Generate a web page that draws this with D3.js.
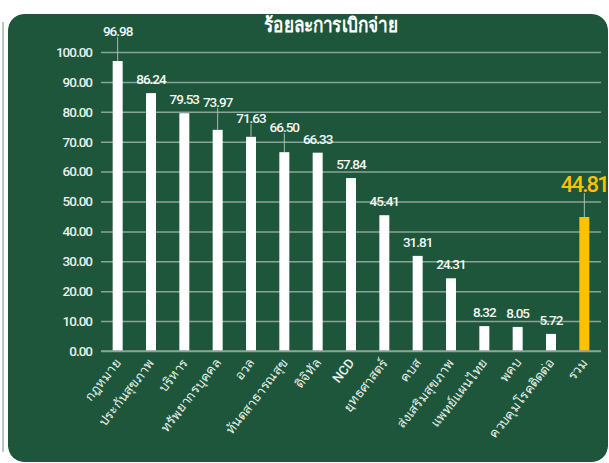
<!DOCTYPE html>
<html><head><meta charset="utf-8">
<script src="https://cdn.jsdelivr.net/npm/d3@7"></script>
<style>
html,body{margin:0;padding:0;background:#fff;}
svg{display:block;}
</style></head>
<body>
<svg id="c" width="609" height="463"></svg>
<script>
const title = "ร้อยละการเบิกจ่าย";
const categories = ["กฎหมาย","ประกันสุขภาพ","บริหาร","ทรัพยากรบุคคล","อวล","ทันตสาธารณสุข","ดิจิทัล","NCD","ยุทธศาสตร์","คบส","ส่งเสริมสุขภาพ","แพทย์แผนไทย","พคบ","ควบคุมโรคติดต่อ","รวม"];
const values = [96.98,86.24,79.53,73.97,71.63,66.50,66.33,57.84,45.41,31.81,24.31,8.32,8.05,5.72,44.81];
const yTicks = [0,10,20,30,40,50,60,70,80,90,100];
// extra lift (px) of a data label above its bar, leader line drawn when lifted
const labelLift = [16,0,0,14,5,11,0,0,0,0,0,0,0,0,14];

const svg = d3.select("#c");
const green = "#1d563a", grid = "#8aa595", gold = "#ffc000";

svg.append("defs").append("clipPath").attr("id","pc")
  .append("rect").attr("x",8).attr("y",14).attr("width",600).attr("height",448).attr("rx",16);

svg.append("line").attr("x1",3).attr("x2",3).attr("y1",22).attr("y2",452)
  .attr("stroke","#6f9782").attr("stroke-width",1);

const g = svg.append("g").attr("clip-path","url(#pc)");
g.append("rect").attr("x",8).attr("y",14).attr("width",600).attr("height",448).attr("rx",16).attr("fill",green);

const x = d3.scaleBand().domain(categories).range([101,601]).paddingInner(0.7).paddingOuter(0.35);
const y = d3.scaleLinear().domain([0,100]).range([351,52]);

// title (condensed)
g.append("text").attr("transform","translate(331,32) scale(0.86,1)").attr("text-anchor","middle")
  .attr("fill","#fff").attr("font-family","Roboto, 'Noto Sans', sans-serif")
  .attr("font-weight","bold").attr("font-size",20)
  .text(title);

// y axis with gridlines
const yAxis = d3.axisLeft(y).tickValues(yTicks).tickFormat(d3.format(".2f")).tickSize(-500).tickPadding(9);
const ya = g.append("g").attr("transform","translate(101,0)").call(yAxis);
ya.select(".domain").remove();
ya.selectAll(".tick line").attr("stroke",grid).attr("stroke-width",1.5);
ya.selectAll(".tick text").attr("fill","#e9f0ec").attr("font-size",13.5).attr("font-weight",500)
  .attr("font-family","Roboto, sans-serif").attr("letter-spacing","-1");

// bars
g.selectAll("rect.bar").data(values).join("rect").attr("class","bar")
  .attr("x",(d,i)=>x(categories[i])).attr("width",x.bandwidth())
  .attr("y",d=>y(d)).attr("height",d=>y(0)-y(d))
  .attr("fill",(d,i)=>i===values.length-1?gold:"#fff");

// baseline
g.append("line").attr("x1",101).attr("x2",601).attr("y1",y(0)).attr("y2",y(0))
  .attr("stroke",grid).attr("stroke-width",1.5);

// leader lines
g.selectAll("line.lead").data(values.map((v,i)=>({v,i})).filter(d=>labelLift[d.i]>0)).join("line")
  .attr("class","lead")
  .attr("x1",d=>x(categories[d.i])+x.bandwidth()/2).attr("x2",d=>x(categories[d.i])+x.bandwidth()/2)
  .attr("y1",d=>y(d.v)-8-labelLift[d.i]+(d.i===values.length-1?-2:0)).attr("y2",d=>y(d.v))
  .attr("stroke","#a9bcb1").attr("stroke-width",1);

// data labels
g.selectAll("text.val").data(values).join("text").attr("class","val")
  .attr("x",(d,i)=>x(categories[i])+x.bandwidth()/2)
  .attr("y",(d,i)=>y(d)-9-labelLift[i]-(i===values.length-1?2:0))
  .attr("text-anchor","middle")
  .attr("fill",(d,i)=>i===values.length-1?gold:"#f4f7f5")
  .attr("font-family","Roboto, sans-serif").attr("font-weight",500)
  .attr("font-size",(d,i)=>i===values.length-1?22:13.5)
  .attr("letter-spacing",(d,i)=>i===values.length-1?"-1.8":"-1")
  .text(d=>d.toFixed(2));

// x labels
g.selectAll("text.cat").data(categories).join("text").attr("class","cat")
  .attr("transform",d=>`translate(${x(d)+x.bandwidth()/2+4},${y(0)+12}) rotate(-52)`)
  .attr("text-anchor","end").attr("fill","#e9f0ec")
  .attr("font-family","Roboto, 'Noto Sans', sans-serif").attr("font-size",13).attr("font-weight",500)
  .text(d=>d);
</script>
</body></html>
